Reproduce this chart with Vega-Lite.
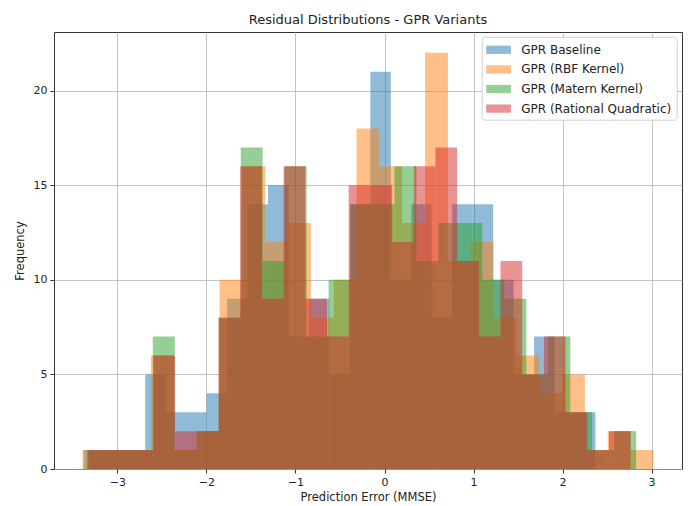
{
  "$schema": "https://vega.github.io/schema/vega-lite/v6.json",
  "width": 628,
  "height": 437,
  "autosize": {"type": "none"},
  "padding": {"left": 54, "top": 32, "right": 6, "bottom": 37},
  "background": "white",
  "title": {"text": "Residual Distributions - GPR Variants", "fontSize": 13, "fontWeight": "normal", "font": "DejaVu Sans", "color": "#222222", "offset": 5},
  "datasets": {
    "bins": [
      {"s":"GPR Baseline","x0":-3.378,"x1":-3.148,"n":1},
      {"s":"GPR Baseline","x0":-3.148,"x1":-2.918,"n":1},
      {"s":"GPR Baseline","x0":-2.918,"x1":-2.688,"n":1},
      {"s":"GPR Baseline","x0":-2.688,"x1":-2.458,"n":5},
      {"s":"GPR Baseline","x0":-2.458,"x1":-2.229,"n":3},
      {"s":"GPR Baseline","x0":-2.229,"x1":-1.999,"n":3},
      {"s":"GPR Baseline","x0":-1.999,"x1":-1.769,"n":4},
      {"s":"GPR Baseline","x0":-1.769,"x1":-1.539,"n":9},
      {"s":"GPR Baseline","x0":-1.539,"x1":-1.309,"n":14},
      {"s":"GPR Baseline","x0":-1.309,"x1":-1.079,"n":15},
      {"s":"GPR Baseline","x0":-1.079,"x1":-0.849,"n":7},
      {"s":"GPR Baseline","x0":-0.849,"x1":-0.619,"n":9},
      {"s":"GPR Baseline","x0":-0.619,"x1":-0.389,"n":5},
      {"s":"GPR Baseline","x0":-0.389,"x1":-0.159,"n":14},
      {"s":"GPR Baseline","x0":-0.159,"x1":0.071,"n":21},
      {"s":"GPR Baseline","x0":0.071,"x1":0.300,"n":10},
      {"s":"GPR Baseline","x0":0.300,"x1":0.530,"n":14},
      {"s":"GPR Baseline","x0":0.530,"x1":0.760,"n":8},
      {"s":"GPR Baseline","x0":0.760,"x1":0.990,"n":14},
      {"s":"GPR Baseline","x0":0.990,"x1":1.220,"n":14},
      {"s":"GPR Baseline","x0":1.220,"x1":1.450,"n":10},
      {"s":"GPR Baseline","x0":1.450,"x1":1.680,"n":5},
      {"s":"GPR Baseline","x0":1.680,"x1":1.910,"n":7},
      {"s":"GPR Baseline","x0":1.910,"x1":2.140,"n":3},
      {"s":"GPR Baseline","x0":2.140,"x1":2.369,"n":3},
      {"s":"GPR (RBF Kernel)","x0":-3.392,"x1":-3.136,"n":1},
      {"s":"GPR (RBF Kernel)","x0":-3.136,"x1":-2.879,"n":1},
      {"s":"GPR (RBF Kernel)","x0":-2.879,"x1":-2.623,"n":1},
      {"s":"GPR (RBF Kernel)","x0":-2.623,"x1":-2.366,"n":6},
      {"s":"GPR (RBF Kernel)","x0":-2.366,"x1":-2.110,"n":1},
      {"s":"GPR (RBF Kernel)","x0":-2.110,"x1":-1.853,"n":2},
      {"s":"GPR (RBF Kernel)","x0":-1.853,"x1":-1.597,"n":10},
      {"s":"GPR (RBF Kernel)","x0":-1.597,"x1":-1.340,"n":16},
      {"s":"GPR (RBF Kernel)","x0":-1.340,"x1":-1.084,"n":12},
      {"s":"GPR (RBF Kernel)","x0":-1.084,"x1":-0.827,"n":13},
      {"s":"GPR (RBF Kernel)","x0":-0.827,"x1":-0.571,"n":8},
      {"s":"GPR (RBF Kernel)","x0":-0.571,"x1":-0.314,"n":10},
      {"s":"GPR (RBF Kernel)","x0":-0.314,"x1":-0.058,"n":18},
      {"s":"GPR (RBF Kernel)","x0":-0.058,"x1":0.199,"n":16},
      {"s":"GPR (RBF Kernel)","x0":0.199,"x1":0.456,"n":13},
      {"s":"GPR (RBF Kernel)","x0":0.456,"x1":0.712,"n":22},
      {"s":"GPR (RBF Kernel)","x0":0.712,"x1":0.969,"n":11},
      {"s":"GPR (RBF Kernel)","x0":0.969,"x1":1.225,"n":12},
      {"s":"GPR (RBF Kernel)","x0":1.225,"x1":1.482,"n":8},
      {"s":"GPR (RBF Kernel)","x0":1.482,"x1":1.738,"n":6},
      {"s":"GPR (RBF Kernel)","x0":1.738,"x1":1.995,"n":4},
      {"s":"GPR (RBF Kernel)","x0":1.995,"x1":2.251,"n":5},
      {"s":"GPR (RBF Kernel)","x0":2.251,"x1":2.508,"n":1},
      {"s":"GPR (RBF Kernel)","x0":2.508,"x1":2.764,"n":2},
      {"s":"GPR (RBF Kernel)","x0":2.764,"x1":3.021,"n":1},
      {"s":"GPR (Matern Kernel)","x0":-3.343,"x1":-3.096,"n":1},
      {"s":"GPR (Matern Kernel)","x0":-3.096,"x1":-2.849,"n":1},
      {"s":"GPR (Matern Kernel)","x0":-2.849,"x1":-2.603,"n":1},
      {"s":"GPR (Matern Kernel)","x0":-2.603,"x1":-2.356,"n":7},
      {"s":"GPR (Matern Kernel)","x0":-2.356,"x1":-2.109,"n":1},
      {"s":"GPR (Matern Kernel)","x0":-2.109,"x1":-1.862,"n":2},
      {"s":"GPR (Matern Kernel)","x0":-1.862,"x1":-1.615,"n":8},
      {"s":"GPR (Matern Kernel)","x0":-1.615,"x1":-1.369,"n":17},
      {"s":"GPR (Matern Kernel)","x0":-1.369,"x1":-1.122,"n":11},
      {"s":"GPR (Matern Kernel)","x0":-1.122,"x1":-0.875,"n":16},
      {"s":"GPR (Matern Kernel)","x0":-0.875,"x1":-0.628,"n":7},
      {"s":"GPR (Matern Kernel)","x0":-0.628,"x1":-0.381,"n":10},
      {"s":"GPR (Matern Kernel)","x0":-0.381,"x1":-0.135,"n":14},
      {"s":"GPR (Matern Kernel)","x0":-0.135,"x1":0.112,"n":14},
      {"s":"GPR (Matern Kernel)","x0":0.112,"x1":0.359,"n":16},
      {"s":"GPR (Matern Kernel)","x0":0.359,"x1":0.606,"n":11},
      {"s":"GPR (Matern Kernel)","x0":0.606,"x1":0.853,"n":13},
      {"s":"GPR (Matern Kernel)","x0":0.853,"x1":1.099,"n":13},
      {"s":"GPR (Matern Kernel)","x0":1.099,"x1":1.346,"n":10},
      {"s":"GPR (Matern Kernel)","x0":1.346,"x1":1.593,"n":9},
      {"s":"GPR (Matern Kernel)","x0":1.593,"x1":1.840,"n":5},
      {"s":"GPR (Matern Kernel)","x0":1.840,"x1":2.087,"n":7},
      {"s":"GPR (Matern Kernel)","x0":2.087,"x1":2.333,"n":3},
      {"s":"GPR (Matern Kernel)","x0":2.333,"x1":2.580,"n":1},
      {"s":"GPR (Matern Kernel)","x0":2.580,"x1":2.827,"n":2},
      {"s":"GPR (Rational Quadratic)","x0":-3.327,"x1":-3.083,"n":1},
      {"s":"GPR (Rational Quadratic)","x0":-3.083,"x1":-2.840,"n":1},
      {"s":"GPR (Rational Quadratic)","x0":-2.840,"x1":-2.596,"n":1},
      {"s":"GPR (Rational Quadratic)","x0":-2.596,"x1":-2.352,"n":6},
      {"s":"GPR (Rational Quadratic)","x0":-2.352,"x1":-2.108,"n":2},
      {"s":"GPR (Rational Quadratic)","x0":-2.108,"x1":-1.865,"n":2},
      {"s":"GPR (Rational Quadratic)","x0":-1.865,"x1":-1.621,"n":8},
      {"s":"GPR (Rational Quadratic)","x0":-1.621,"x1":-1.377,"n":16},
      {"s":"GPR (Rational Quadratic)","x0":-1.377,"x1":-1.134,"n":9},
      {"s":"GPR (Rational Quadratic)","x0":-1.134,"x1":-0.890,"n":16},
      {"s":"GPR (Rational Quadratic)","x0":-0.890,"x1":-0.646,"n":9},
      {"s":"GPR (Rational Quadratic)","x0":-0.646,"x1":-0.403,"n":7},
      {"s":"GPR (Rational Quadratic)","x0":-0.403,"x1":-0.159,"n":15},
      {"s":"GPR (Rational Quadratic)","x0":-0.159,"x1":0.085,"n":15},
      {"s":"GPR (Rational Quadratic)","x0":0.085,"x1":0.329,"n":12},
      {"s":"GPR (Rational Quadratic)","x0":0.329,"x1":0.572,"n":16},
      {"s":"GPR (Rational Quadratic)","x0":0.572,"x1":0.816,"n":17},
      {"s":"GPR (Rational Quadratic)","x0":0.816,"x1":1.060,"n":11},
      {"s":"GPR (Rational Quadratic)","x0":1.060,"x1":1.303,"n":7},
      {"s":"GPR (Rational Quadratic)","x0":1.303,"x1":1.547,"n":11},
      {"s":"GPR (Rational Quadratic)","x0":1.547,"x1":1.791,"n":5},
      {"s":"GPR (Rational Quadratic)","x0":1.791,"x1":2.034,"n":7},
      {"s":"GPR (Rational Quadratic)","x0":2.034,"x1":2.278,"n":3},
      {"s":"GPR (Rational Quadratic)","x0":2.278,"x1":2.522,"n":1},
      {"s":"GPR (Rational Quadratic)","x0":2.522,"x1":2.765,"n":2}
    ]
  },
  "data": {"name": "bins"},
  "mark": {"type": "bar", "opacity": 0.5, "strokeWidth": 0, "orient": "vertical"},
  "encoding": {
    "x": {
      "field": "x0", "type": "quantitative",
      "scale": {"domain": [-3.713, 3.342], "nice": false, "zero": false, "padding": 0},
      "axis": {"values": [-3, -2, -1, 0, 1, 2, 3], "title": "Prediction Error (MMSE)", "format": "d"}
    },
    "x2": {"field": "x1"},
    "y": {
      "field": "n", "type": "quantitative", "stack": null,
      "scale": {"domain": [0, 23.1], "nice": false, "padding": 0},
      "axis": {"values": [0, 5, 10, 15, 20], "title": "Frequency"}
    },
    "y2": {"datum": 0},
    "color": {
      "field": "s", "type": "nominal",
      "scale": {
        "domain": ["GPR Baseline", "GPR (RBF Kernel)", "GPR (Matern Kernel)", "GPR (Rational Quadratic)"],
        "range": ["#1f77b4", "#ff7f0e", "#2ca02c", "#d62728"]
      },
      "legend": {
        "title": null,
        "orient": "none",
        "legendX": 427.7,
        "legendY": 4.7,
        "fillColor": "white",
        "strokeColor": "#d0d0d0",
        "cornerRadius": 3,
        "padding": 4.6,
        "rowPadding": 4.6,
        "symbolType": "M-1.5,-0.5H1.5V0.5H-1.5Z",
        "symbolSize": 272,
        "symbolOffset": 3.75,
        "symbolOpacity": 0.5,
        "symbolStrokeWidth": 0,
        "labelFontSize": 12,
        "labelFont": "DejaVu Sans",
        "labelColor": "#222222",
        "labelOffset": 14.2
      }
    }
  },
  "config": {
    "view": {"stroke": "#333333", "strokeWidth": 1},
    "axis": {
      "domain": false,
      "grid": true,
      "gridColor": "#b0b0b0",
      "gridOpacity": 0.75,
      "gridWidth": 1,
      "zindex": 1,
      "tickColor": "#333333",
      "tickSize": 4,
      "labelFont": "DejaVu Sans",
      "labelFontSize": 11,
      "labelColor": "#222222",
      "labelPadding": 3,
      "titleFont": "DejaVu Sans",
      "titleFontSize": 11.5,
      "titleFontWeight": "normal",
      "titleColor": "#222222"
    },
    "axisX": {"titlePadding": 4},
    "axisY": {"titlePadding": 8}
  }
}
